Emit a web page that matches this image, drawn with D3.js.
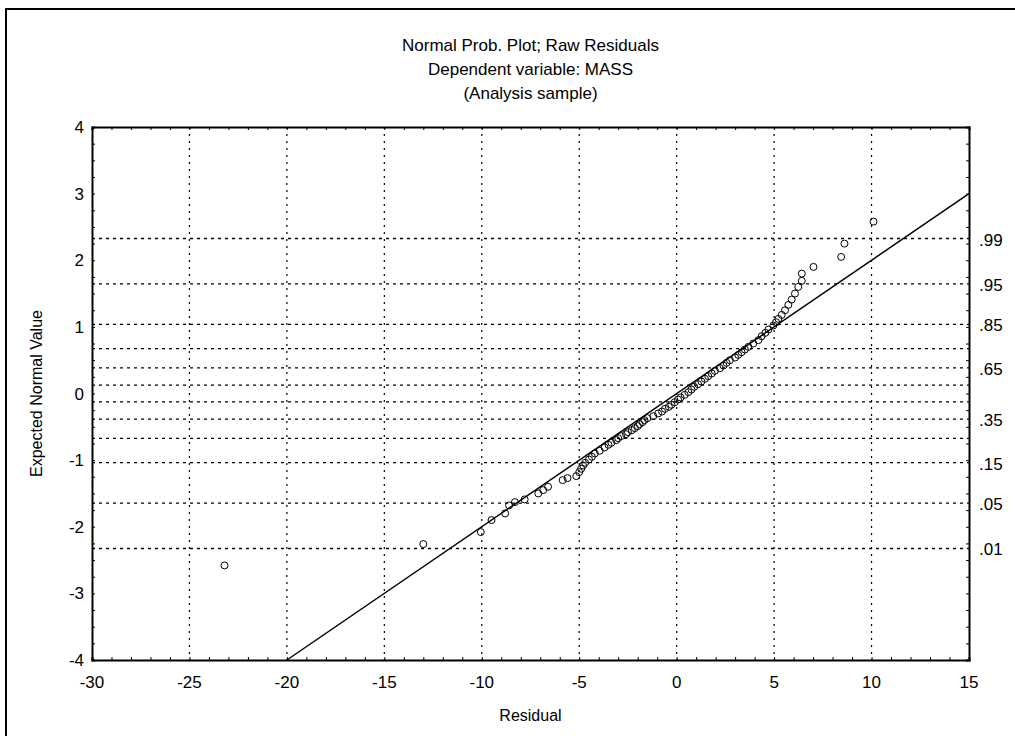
<!DOCTYPE html>
<html>
<head>
<meta charset="utf-8">
<script src="https://cdn.jsdelivr.net/npm/d3@7"></script>
<style>
  body { margin: 0; background: #fff; }
  text { font-family: "Liberation Sans", Arial, sans-serif; fill: #000; }
</style>
</head>
<body>
<div class="chart"></div>
<script>
var w = 1015;
var h = 736;

var titleLines = ["Normal Prob. Plot; Raw Residuals", "Dependent variable: MASS", "(Analysis sample)"];
var xTicks = [-30, -25, -20, -15, -10, -5, 0, 5, 10, 15];
var yTicks = [-4, -3, -2, -1, 0, 1, 2, 3, 4];
var probLevels = [.99, .95, .85, .75, .65, .55, .45, .35, .25, .15, .05, .01];
var probLabels = [".99", ".95", ".85", "", ".65", "", "", ".35", "", ".15", ".05", ".01"];

// residuals and their expected normal values
var residual = [-23.2, -13.0, -10.05, -9.5, -8.8, -8.6, -8.3, -7.8, -7.1, -6.85, -6.6, -5.85,
  -5.6, -5.15, -5.0, -4.9, -4.8, -4.7, -4.5, -4.35, -4.2, -3.95, -3.7, -3.5, -3.35, -3.1,
  -3.0, -2.85, -2.6, -2.5, -2.3, -2.15, -2.0, -1.9, -1.75, -1.65, -1.5, -1.2, -0.95, -0.75,
  -0.6, -0.4, -0.27, -0.1, 0.07, 0.2, 0.41, 0.6, 0.76, 0.9, 1.1, 1.27, 1.45, 1.62, 1.8,
  1.96, 2.22, 2.4, 2.56, 2.73, 3.0, 3.16, 3.33, 3.5, 3.68, 3.93, 4.19, 4.36, 4.55, 4.71,
  4.96, 5.1, 5.22, 5.39, 5.56, 5.73, 5.9, 6.07, 6.24, 6.42, 6.42, 7.02, 8.44, 8.61, 10.1];
var expected = [-2.58, -2.26, -2.08, -1.9, -1.8, -1.68, -1.63, -1.59, -1.5, -1.45, -1.4, -1.3,
  -1.27, -1.24, -1.18, -1.13, -1.08, -1.04, -0.99, -0.95, -0.9, -0.86, -0.81, -0.77, -0.74, -0.7,
  -0.67, -0.64, -0.61, -0.58, -0.55, -0.52, -0.49, -0.46, -0.43, -0.4, -0.37, -0.34, -0.3, -0.27,
  -0.23, -0.2, -0.17, -0.13, -0.09, -0.06, -0.02, 0.02, 0.06, 0.1, 0.14, 0.18, 0.22, 0.26, 0.3,
  0.34, 0.38, 0.42, 0.46, 0.5, 0.54, 0.58, 0.62, 0.66, 0.7, 0.75, 0.8, 0.86, 0.91, 0.96,
  1.02, 1.07, 1.12, 1.18, 1.25, 1.33, 1.41, 1.5, 1.6, 1.69, 1.8, 1.9, 2.05, 2.25, 2.58];

// fitted line end points
var fitX = [-20, 15];
var fitY = [-4, 3];

var pLeft = 92, pRight = 969, pTop = 127, pBottom = 660;

var x = d3.scaleLinear().domain([-30, 15]).range([pLeft, pRight]);
var y = d3.scaleLinear().domain([-4, 4]).range([pBottom, pTop]);

// inverse normal cdf for probability gridlines
function probit(p) {
    var a = [-39.69683028665376, 220.9460984245205, -275.9285104469687, 138.357751867269, -30.66479806614716, 2.506628277459239];
    var b = [-54.47609879822406, 161.5858368580409, -155.6989798598866, 66.80131188771972, -13.28068155288572];
    var c = [-0.007784894002430293, -0.3223964580411365, -2.400758277161838, -2.549732539343734, 4.374664141464968, 2.938163982698783];
    var d = [0.007784695709041462, 0.3224671290700398, 2.445134137142996, 3.754408661907416];
    var q, r;
    if (p < 0.02425) {
        q = Math.sqrt(-2 * Math.log(p));
        return (((((c[0]*q+c[1])*q+c[2])*q+c[3])*q+c[4])*q+c[5]) / ((((d[0]*q+d[1])*q+d[2])*q+d[3])*q+1);
    } else if (p > 1 - 0.02425) {
        q = Math.sqrt(-2 * Math.log(1 - p));
        return -(((((c[0]*q+c[1])*q+c[2])*q+c[3])*q+c[4])*q+c[5]) / ((((d[0]*q+d[1])*q+d[2])*q+d[3])*q+1);
    }
    q = p - 0.5; r = q * q;
    return (((((a[0]*r+a[1])*r+a[2])*r+a[3])*r+a[4])*r+a[5])*q / (((((b[0]*r+b[1])*r+b[2])*r+b[3])*r+b[4])*r+1);
}

var svg = d3.select(".chart").append("svg")
    .attr("width", w)
    .attr("height", h);

// outer frame (top and left edges only, like the scan)
svg.append("line").attr("x1", 5).attr("y1", 9).attr("x2", w).attr("y2", 9)
    .attr("stroke", "#000").attr("stroke-width", 2);
svg.append("line").attr("x1", 6).attr("y1", 9).attr("x2", 6).attr("y2", h)
    .attr("stroke", "#000").attr("stroke-width", 2);

// titles
svg.selectAll(".title")
    .data(titleLines)
    .enter()
    .append("text")
    .attr("class", "title")
    .attr("x", (pLeft + pRight) / 2)
    .attr("y", function(d, i) { return 51 + i * 24; })
    .attr("text-anchor", "middle")
    .attr("font-size", "17px")
    .text(function(d) { return d; });

// vertical gridlines
svg.selectAll(".vgrid")
    .data(xTicks.slice(1, -1))
    .enter()
    .append("line")
    .attr("x1", function(d) { return x(d); })
    .attr("x2", function(d) { return x(d); })
    .attr("y1", pTop)
    .attr("y2", pBottom)
    .attr("stroke", "#000")
    .attr("stroke-width", 1.2)
    .attr("stroke-dasharray", "2,5");

// horizontal gridlines at probability levels
svg.selectAll(".hgrid")
    .data(probLevels)
    .enter()
    .append("line")
    .attr("x1", pLeft)
    .attr("x2", pRight)
    .attr("y1", function(d) { return y(probit(d)); })
    .attr("y2", function(d) { return y(probit(d)); })
    .attr("stroke", "#000")
    .attr("stroke-width", 1.3)
    .attr("stroke-dasharray", "3,4");

// axes with inward minor ticks
var minorX = d3.range(-30, 15.01, 1);
var minorY = d3.range(-4, 4.01, 0.25);

svg.append("g").attr("transform", "translate(0," + pBottom + ")")
    .call(d3.axisTop(x).tickValues(minorX).tickSize(3).tickFormat(""));
svg.append("g").attr("transform", "translate(0," + pTop + ")")
    .call(d3.axisBottom(x).tickValues(minorX).tickSize(3).tickFormat(""));
svg.append("g").attr("transform", "translate(" + pLeft + ",0)")
    .call(d3.axisRight(y).tickValues(minorY).tickSize(3).tickFormat(""));
svg.append("g").attr("transform", "translate(" + pRight + ",0)")
    .call(d3.axisLeft(y).tickValues(minorY).tickSize(3).tickFormat(""));

svg.selectAll(".domain").attr("stroke", "#000").attr("stroke-width", 2);
svg.selectAll(".tick line").attr("stroke", "#000");

// tick labels
svg.selectAll(".xlab")
    .data(xTicks)
    .enter()
    .append("text")
    .attr("x", function(d) { return x(d); })
    .attr("y", pBottom + 28)
    .attr("text-anchor", "middle")
    .attr("font-size", "17px")
    .text(function(d) { return d; });

svg.selectAll(".ylab")
    .data(yTicks)
    .enter()
    .append("text")
    .attr("x", pLeft - 8)
    .attr("y", function(d) { return y(d) + 6; })
    .attr("text-anchor", "end")
    .attr("font-size", "17px")
    .text(function(d) { return d; });

svg.selectAll(".plab")
    .data(probLevels)
    .enter()
    .append("text")
    .attr("x", pRight + 10)
    .attr("y", function(d) { return y(probit(d)) + 7; })
    .attr("font-size", "17px")
    .text(function(d, i) { return probLabels[i]; });

// axis titles
svg.append("text")
    .attr("x", (pLeft + pRight) / 2)
    .attr("y", 721)
    .attr("text-anchor", "middle")
    .attr("font-size", "16px")
    .text("Residual");

svg.append("text")
    .attr("transform", "translate(42," + ((pTop + pBottom) / 2) + ") rotate(-90)")
    .attr("text-anchor", "middle")
    .attr("font-size", "16px")
    .text("Expected Normal Value");

// fitted line
svg.append("line")
    .attr("x1", x(fitX[0])).attr("y1", y(fitY[0]))
    .attr("x2", x(fitX[1])).attr("y2", y(fitY[1]))
    .attr("stroke", "#000")
    .attr("stroke-width", 1.5);

// points
svg.selectAll("circle")
    .data(residual)
    .enter()
    .append("circle")
    .attr("cx", function(d) { return x(d); })
    .attr("cy", function(d, i) { return y(expected[i]); })
    .attr("r", 3.5)
    .attr("fill", "none")
    .attr("stroke", "#000")
    .attr("stroke-width", 1);
</script>
</body>
</html>
